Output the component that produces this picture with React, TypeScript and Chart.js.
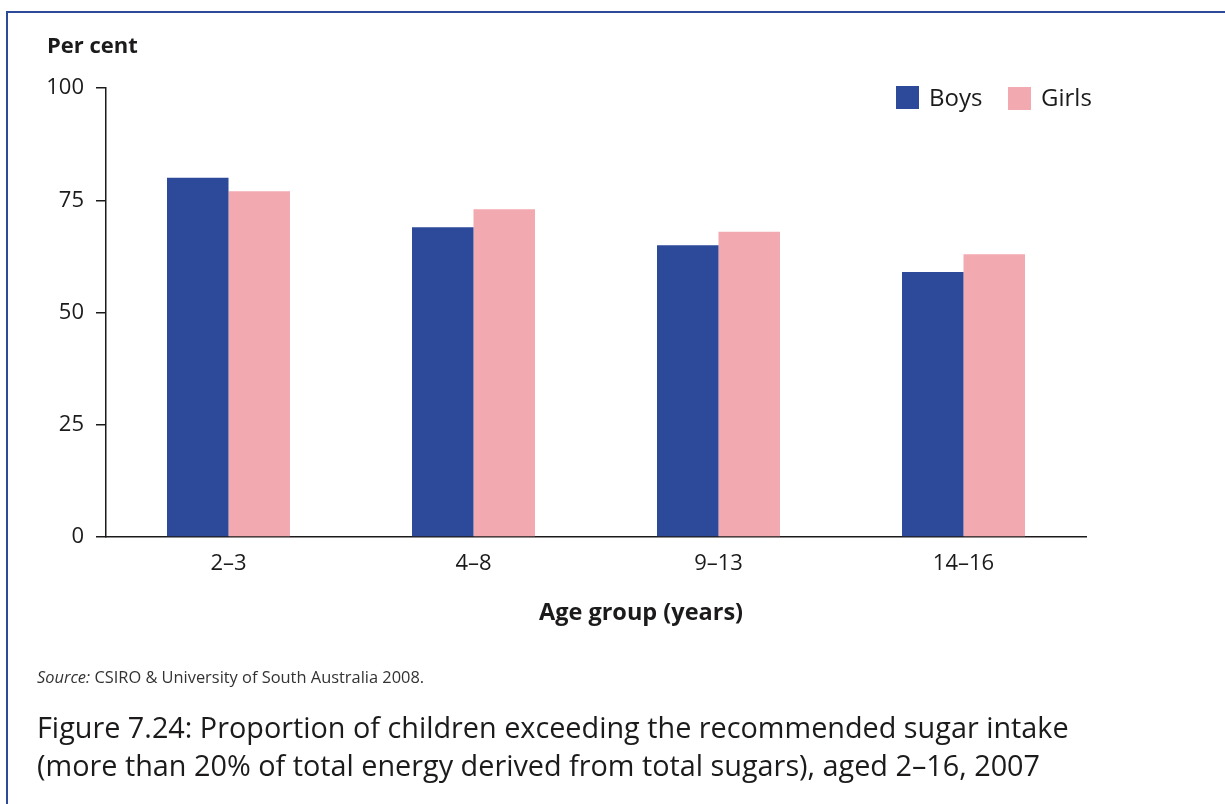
import React, { useEffect, useRef } from "react";
import { Chart, registerables } from "chart.js";

Chart.register(...registerables);

const categories = ["2–3", "4–8", "9–13", "14–16"];
const boys = [80, 69, 65, 59];
const girls = [77, 73, 68, 63];
const yTicks = [0, 25, 50, 75, 100];

const BOYS_COLOR = "#2d4a9a";
const GIRLS_COLOR = "#f3a9b0";
const INK = "#1c1a1a";
const FONT = "'Open Sans', 'Noto Sans', sans-serif";

export default function App() {
  const ref = useRef<HTMLCanvasElement | null>(null);

  useEffect(() => {
    if (!ref.current) return;
    const chart = new Chart(ref.current, {
      type: "bar",
      data: {
        labels: categories,
        datasets: [
          { label: "Boys", data: boys, backgroundColor: BOYS_COLOR, borderWidth: 0 },
          { label: "Girls", data: girls, backgroundColor: GIRLS_COLOR, borderWidth: 0 },
        ],
      },
      options: {
        responsive: false,
        animation: false,
        devicePixelRatio: 1,
        layout: { padding: { left: 0, right: 139, top: 88, bottom: 217 } },
        datasets: { bar: { categoryPercentage: 0.502, barPercentage: 1 } },
        plugins: { legend: { display: false }, tooltip: { enabled: false }, title: { display: false } },
        scales: {
          x: {
            grid: { display: false, drawTicks: false },
            border: { display: true, color: INK, width: 1.5 },
            ticks: { color: INK, font: { family: FONT, size: 22 }, padding: 14 },
            afterFit: (s: any) => { s.height = 50; },
          },
          y: {
            min: 0,
            max: 100,
            afterBuildTicks: (s: any) => { s.ticks = yTicks.map((v) => ({ value: v })); },
            grid: { drawOnChartArea: false, drawTicks: true, tickLength: 10, color: INK, lineWidth: 1.5 },
            border: { display: true, color: INK, width: 1.5 },
            ticks: { color: INK, font: { family: FONT, size: 22 }, padding: 12 },
            afterFit: (s: any) => { s.width = 106; },
          },
        },
      },
    });
    return () => chart.destroy();
  }, []);

  const abs = (o: React.CSSProperties): React.CSSProperties => ({ position: "absolute", margin: 0, whiteSpace: "nowrap", ...o });

  return (
    <div style={{ position: "fixed", left: 0, top: 0, width: 1225, height: 804, background: "#fff", fontFamily: FONT, color: INK, overflow: "hidden" }}>
      <div style={abs({ left: 6, top: 11, width: 1300, height: 900, borderLeft: `2px solid ${BOYS_COLOR}`, borderTop: `2px solid ${BOYS_COLOR}` })} />
      <canvas ref={ref} width={1225} height={804} style={{ position: "absolute", left: 0, top: 0 }} />
      <div style={abs({ left: 47, top: 53 - 0.888 * 22, fontSize: 22, lineHeight: 1, fontWeight: 700 })}>Per cent</div>
      <div style={abs({ left: 896, top: 86, width: 23, height: 23, background: BOYS_COLOR })} />
      <div style={abs({ left: 929, top: 106 - 0.888 * 24, fontSize: 24, lineHeight: 1 })}>Boys</div>
      <div style={abs({ left: 1008, top: 87, width: 23, height: 23, background: GIRLS_COLOR })} />
      <div style={abs({ left: 1041, top: 106 - 0.888 * 24, fontSize: 24, lineHeight: 1 })}>Girls</div>
      <div style={abs({ left: 641, transform: "translateX(-50%)", top: 621 - 0.888 * 23.5, fontSize: 23.5, lineHeight: 1, fontWeight: 700 })}>Age group (years)</div>
      <div style={abs({ left: 37, top: 684 - 0.888 * 16.4, fontSize: 16.4, lineHeight: 1, color: "#333" })}>
        <i>Source:</i> CSIRO &amp; University of South Australia 2008.
      </div>
      <div style={abs({ left: 37, top: 739 - 0.888 * 28.8, fontSize: 28.8, lineHeight: 1 })}>
        Figure 7.24: Proportion of children exceeding the recommended sugar intake
      </div>
      <div style={abs({ left: 37, top: 777 - 0.888 * 28.8, fontSize: 28.8, lineHeight: 1 })}>
        (more than 20% of total energy derived from total sugars), aged 2–16, 2007
      </div>
    </div>
  );
}
